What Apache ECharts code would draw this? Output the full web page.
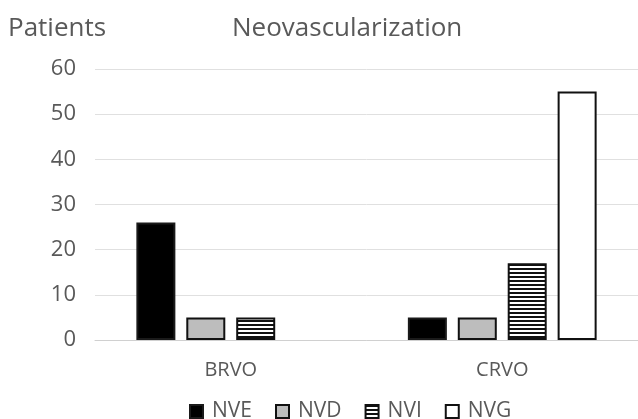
<!DOCTYPE html>
<html>
<head>
<meta charset="utf-8">
<script src="https://cdn.jsdelivr.net/npm/echarts@6/dist/echarts.min.js"></script>
<style>
  html, body { margin: 0; padding: 0; background: #fff; }
  #chart { width: 638px; height: 419px; }
</style>
</head>
<body>
<div id="chart"></div>
<script>
// Patients with neovascularization by occlusion type
const categories = ['BRVO', 'CRVO'];
const seriesNames = ['NVE', 'NVD', 'NVI', 'NVG'];
const nveValues = [26, 5];
const nvdValues = [5, 5];
const nviValues = [5, 17];
const nvgValues = [0, 55];
const yTicks = [0, 10, 20, 30, 40, 50, 60];

// Horizontal stripe fill for NVI
function stripePattern() {
  const c = document.createElement('canvas');
  c.width = 8; c.height = 4;
  const ctx = c.getContext('2d');
  ctx.fillStyle = '#ffffff';
  ctx.fillRect(0, 0, 8, 4);
  ctx.fillStyle = '#111111';
  ctx.fillRect(0, 0, 8, 2);
  return c;
}

// Zero-height bars carry no outline
function withHiddenZeros(values) {
  return values.map(v => v === 0 ? { value: v, itemStyle: { borderWidth: 0 } } : v);
}

const font = 'Open Sans';
const textColor = '#595959';

const chart = echarts.init(document.getElementById('chart'));
chart.setOption({
  animation: false,
  backgroundColor: '#ffffff',
  title: [
    { text: 'Patients', left: 8, top: 16, padding: 0,
      textStyle: { fontFamily: font, fontSize: 26, fontWeight: 'normal', color: textColor } },
    { text: 'Neovascularization', left: 232, top: 16, padding: 0,
      textStyle: { fontFamily: font, fontSize: 26, fontWeight: 'normal', color: textColor } }
  ],
  legend: {
    bottom: -3,
    left: 189,
    padding: 0,
    itemWidth: 13,
    itemHeight: 13,
    itemGap: 23,
    icon: 'rect',
    textStyle: { fontFamily: font, fontSize: 21, color: textColor, padding: [0, 0, 0, 4] },
    data: seriesNames
  },
  grid: { left: 95, right: -7, top: 69, bottom: 79 },
  xAxis: {
    type: 'category',
    data: categories,
    axisTick: { show: false },
    axisLine: { lineStyle: { color: '#d0d0d0', width: 1 } },
    axisLabel: { fontFamily: font, fontSize: 20, color: textColor, margin: 20 }
  },
  yAxis: {
    type: 'value',
    min: yTicks[0],
    max: yTicks[yTicks.length - 1],
    interval: 10,
    axisLine: { show: false },
    axisTick: { show: false },
    splitLine: { lineStyle: { color: '#e0e0e0', width: 1 } },
    axisLabel: { fontFamily: font, fontSize: 22, color: textColor, margin: 19 }
  },
  series: [
    { name: 'NVE', type: 'bar', data: withHiddenZeros(nveValues), barWidth: 39, barGap: '28%',
      itemStyle: { color: '#000000', borderColor: '#1a1a1a', borderWidth: 2 } },
    { name: 'NVD', type: 'bar', data: withHiddenZeros(nvdValues), barWidth: 39,
      itemStyle: { color: '#bdbdbd', borderColor: '#111111', borderWidth: 2 } },
    { name: 'NVI', type: 'bar', data: withHiddenZeros(nviValues), barWidth: 39,
      itemStyle: { color: { image: stripePattern(), repeat: 'repeat' }, borderColor: '#111111', borderWidth: 2 } },
    { name: 'NVG', type: 'bar', data: withHiddenZeros(nvgValues), barWidth: 39,
      itemStyle: { color: '#ffffff', borderColor: '#111111', borderWidth: 2 } }
  ]
});
</script>
</body>
</html>
